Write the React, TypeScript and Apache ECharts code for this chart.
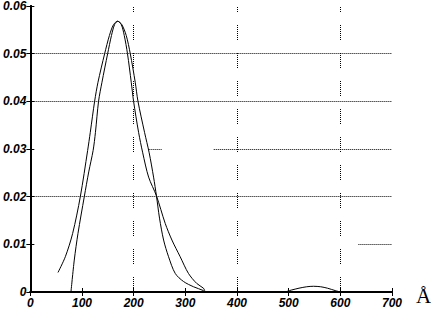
import React, { useEffect, useRef } from "react";
import * as echarts from "echarts";

const xTicks = [0, 100, 200, 300, 400, 500, 600, 700];

const curve1X = [53.5, 67.7, 81.9, 96.7, 110.9, 116, 124.4, 130.9, 143.8, 153, 161, 169, 176, 181.8, 188, 195.3, 199.8, 209.5, 217.5, 228.9, 244, 261, 274, 290, 306, 322, 335, 340, 490, 505, 520, 535, 548, 562, 575, 590, 600];
const curve1Y = [0.0041, 0.0074, 0.0123, 0.02, 0.0297, 0.0335, 0.04, 0.044, 0.05, 0.0538, 0.0561, 0.0568, 0.0561, 0.0538, 0.05, 0.044, 0.04, 0.0335, 0.0292, 0.0241, 0.0202, 0.0144, 0.0109, 0.0074, 0.0039, 0.0018, 0.0008, 0, 0, 0.0004, 0.0008, 0.0011, 0.0012, 0.0011, 0.0008, 0.0003, 0];

const curve2X = [78.6, 85, 92.2, 104.4, 113, 121.5, 126, 132, 138.6, 149.6, 157, 163, 169, 177, 185.6, 193.4, 203, 208.3, 221, 230, 238.5, 244, 250, 257.9, 267.5, 280.4, 296.5, 315.8, 335, 338, 600];
const curve2Y = [0, 0.0067, 0.0123, 0.02, 0.0252, 0.0297, 0.0335, 0.04, 0.044, 0.05, 0.0538, 0.0561, 0.0568, 0.0561, 0.0538, 0.05, 0.044, 0.04, 0.0335, 0.0292, 0.0241, 0.0202, 0.0155, 0.0109, 0.0074, 0.0039, 0.0022, 0.0011, 0.0003, 0, 0];

const vGrid = [200, 400, 600];
const hGridFull = [0.02, 0.04, 0.05];

export default function App() {
  const ref = useRef<HTMLDivElement>(null);
  useEffect(() => {
    if (!ref.current) return;
    const chart = echarts.init(ref.current, undefined, { renderer: "svg" });
    const labelFont = {
      color: "#000",
      fontFamily: "Liberation Sans",
      fontWeight: "bold" as const,
      fontStyle: "italic" as const,
      fontSize: 12,
    };
    const dotted = { color: "#000", width: 1, type: [1, 1] as number[] };
    const vDash = { color: "#000", width: 1, type: [1, 1, 1, 1, 1, 1, 1, 1, 1, 1, 1, 1, 1, 1, 1, 13] as number[] };
    const markData: any[] = [
      ...vGrid.map((v) => ({ xAxis: v, lineStyle: vDash })),
      ...hGridFull.map((v) => ({ yAxis: v, lineStyle: dotted })),
      [{ coord: [229, 0.03], lineStyle: dotted }, { coord: [254, 0.03] }],
      [{ coord: [355, 0.03], lineStyle: dotted }, { coord: [700, 0.03] }],
      [{ coord: [635, 0.01], lineStyle: dotted }, { coord: [700, 0.01] }],
    ];
    const toPairs = (xs: number[], ys: number[]) => xs.map((x, i) => [x, ys[i]]);
    chart.setOption({
      animation: false,
      grid: { left: 30, right: 39, top: 5, bottom: 18, containLabel: false },
      xAxis: [
        {
          type: "value", min: 0, max: 700, interval: 100, position: "bottom",
          axisLine: { lineStyle: { color: "#000", width: 2 } },
          axisTick: { inside: true, length: 4, lineStyle: { color: "#000" } },
          axisLabel: { ...labelFont, margin: 5, formatter: (v: number) => (xTicks.includes(v) ? String(v) : "") },
          splitLine: { show: false },
        },
        {
          type: "value", min: 0, max: 700, interval: 100, position: "top",
          axisLine: { lineStyle: { color: "#000", width: 2 } },
          axisTick: { inside: true, length: 4, lineStyle: { color: "#000" } },
          axisLabel: { show: false },
          splitLine: { show: false },
        },
      ],
      yAxis: [
        {
          type: "value", min: 0, max: 0.06, interval: 0.01, position: "left",
          axisLine: { show: true, lineStyle: { color: "#000", width: 2 } },
          axisTick: { show: true, inside: true, length: 4, lineStyle: { color: "#000" } },
          axisLabel: { ...labelFont, margin: 4, formatter: (v: number) => String(Math.round(v * 100) / 100) },
          splitLine: { show: false },
        },
        {
          type: "value", min: 0, max: 0.06, interval: 0.01, position: "right",
          axisLine: { show: true, lineStyle: { color: "#000", width: 2 } },
          axisTick: { show: true, inside: true, length: 4, lineStyle: { color: "#000" } },
          axisLabel: { show: false },
          splitLine: { show: false },
        },
      ],
      series: [
        {
          type: "line", data: toPairs(curve1X, curve1Y), smooth: 0.3, showSymbol: false,
          lineStyle: { color: "#000", width: 1 },
          markLine: { silent: true, symbol: "none", label: { show: false }, data: markData },
          z: 3,
        },
        {
          type: "line", data: toPairs(curve2X, curve2Y), smooth: 0.3, showSymbol: false,
          lineStyle: { color: "#000", width: 1 }, z: 3,
        },
      ],
      graphic: [
        {
          type: "text", left: 416, top: 285,
          style: { text: "Å", fontFamily: "Liberation Serif", fontSize: 21, fill: "#000" },
        },
      ],
    });
    return () => chart.dispose();
  }, []);
  return <div ref={ref} style={{ width: 431, height: 310, position: "absolute", left: 0, top: 0 }} />;
}
